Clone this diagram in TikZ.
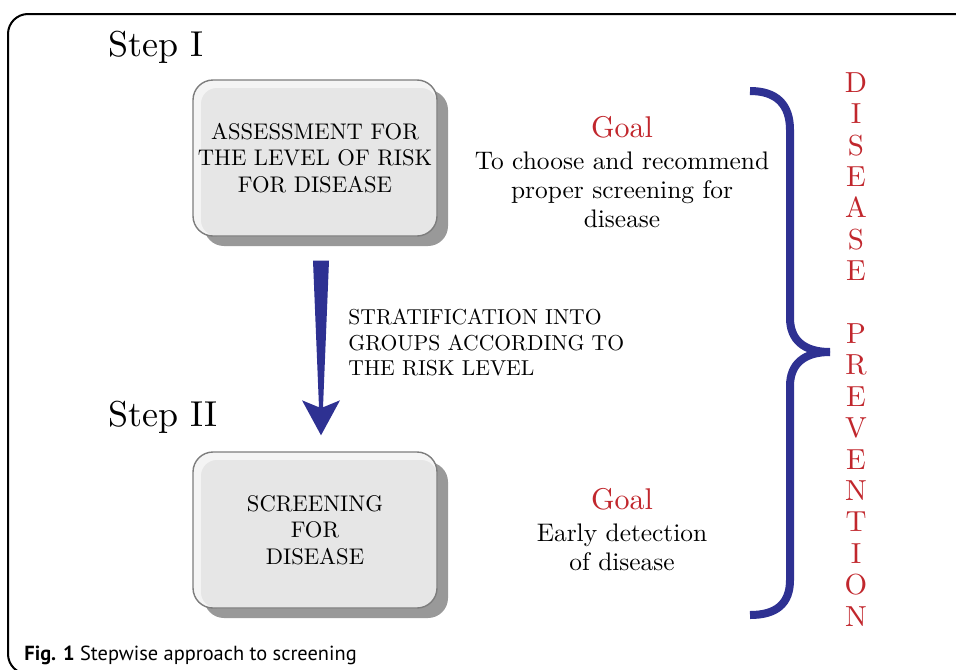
\documentclass[tikz,border=0pt]{standalone}
\usepackage{fontspec}
\setmainfont{lmroman10-regular}[Extension=.otf,BoldFont=lmroman10-bold]
\newfontfamily\capfont{PT Sans}
\usetikzlibrary{positioning,shadows,calc}

\definecolor{bracblue}{RGB}{46,49,146}
\definecolor{goalred}{RGB}{193,39,45}
\definecolor{boxface}{RGB}{230,230,230}
\definecolor{boxlight}{RGB}{244,244,244}
\definecolor{boxedge}{RGB}{125,125,125}
\definecolor{boxshade}{RGB}{153,153,153}

\begin{document}
\begin{tikzpicture}[x=0.5pt,y=-0.5pt]
              \tikzstyle{stepbox}=[draw=boxedge,line width=0.7pt,rounded corners=10pt,fill=boxlight,
                minimum width=122pt,minimum height=78pt,align=center,inner sep=0pt,
                font=\fontsize{11.3}{13.2}\selectfont,
                drop shadow={shadow xshift=5.5pt,shadow yshift=-5pt,fill=boxshade,opacity=1},
                path picture={\fill[boxface,rounded corners=8pt] ([xshift=4pt,yshift=-4pt]path picture bounding box.north west) rectangle (path picture bounding box.south east);}];
              \tikzstyle{steplabel}=[inner sep=0pt,anchor=base west,font=\fontsize{18}{20}\selectfont];
              \tikzstyle{goaltitle}=[inner sep=0pt,anchor=base,text=goalred,font=\fontsize{15}{17}\selectfont];
              \tikzstyle{goaltext}=[inner sep=0pt,align=center,font=\fontsize{12.7}{14.5}\selectfont];
              \tikzstyle{bracestyle}=[draw=bracblue,line width=4pt];

                \useasboundingbox (0,0) rectangle (956,669);
                \clip (0,0) rectangle (956,669);
                \draw[line width=1pt,rounded corners=10pt] (8,14) rectangle (980,674);

                \node[steplabel] (stepA) at (108,56) {Step I};
                \node[steplabel] (stepB) at (108,426) {Step II};

                \node[stepbox] (assess) at (315,158) {ASSESSMENT FOR\\THE LEVEL OF RISK\\FOR DISEASE};
                \node[stepbox] (screen) at (315,530) {SCREENING\\FOR\\DISEASE};

                % tapered arrow between the two steps
                \coordinate (arrtop) at ($(assess.south)+(6,24)$);
                \coordinate (arrtip) at ($(screen.north)+(6,-16)$);
                \fill[bracblue] ($(arrtop)+(-8,0)$) -- ($(arrtop)+(8,0)$) -- ($(arrtip)+(2,-28)$)
                  -- ($(arrtip)+(19,-35)$) -- (arrtip) -- ($(arrtip)+(-19,-35)$) -- ($(arrtip)+(-2,-28)$) -- cycle;

                \node[inner sep=0pt,anchor=north west,align=left,font=\fontsize{10.8}{12.75}\selectfont] (strat) at (348,309)
                  {STRATIFICATION INTO\\GROUPS ACCORDING TO\\THE RISK LEVEL};

                \node[goaltitle] (goalA) at (622,137) {Goal};
                \node[goaltext,below=6.8pt of goalA] (goalAtext) {To choose and recommend\\proper screening for\\disease};
                \node[goaltitle] (goalB) at (622,509) {Goal};
                \node[goaltext,below=6.8pt of goalB] (goalBtext) {Early detection\\of disease};

                % the brace
                \draw[bracestyle] (750,91) .. controls (776,91) and (790,104) .. (790,130) -- (790,318)
                  .. controls (790,340) and (804,352) .. (830,352);
                \draw[bracestyle] (830,352) .. controls (804,352) and (790,364) .. (790,386) -- (790,580)
                  .. controls (790,604) and (776,615) .. (750,615);

                \node[inner sep=0pt,anchor=north,align=center,text=goalred,font=\fontsize{14.5}{15.7}\selectfont] (prev) at (856,72)
                  {D\\I\\S\\E\\A\\S\\E\\[15.7pt]P\\R\\E\\V\\E\\N\\T\\I\\O\\N};

                \node[inner sep=0pt,anchor=base west,font=\capfont\fontsize{10.2}{12}\selectfont] (caption) at (24,660)
                  {\textbf{Fig. 1} Stepwise approach to screening};
            \end{tikzpicture}
\end{document}
